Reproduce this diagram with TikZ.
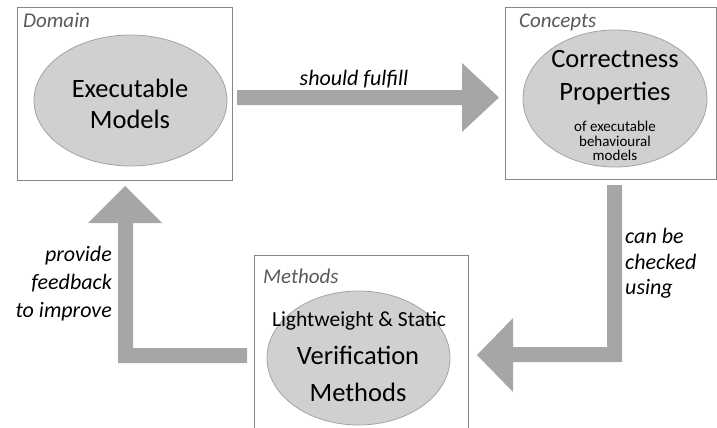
\documentclass[tikz,border=0pt]{standalone}
\usepackage{fontspec}
\setmainfont{Carlito}
\usetikzlibrary{shapes.geometric}
\definecolor{boxgray}{HTML}{868686}
\definecolor{blobfill}{HTML}{D0D0D0}
\definecolor{blobline}{HTML}{A3A3A3}
\definecolor{arrowgray}{HTML}{A6A6A6}
\definecolor{taggray}{HTML}{595959}
\begin{document}
\begin{tikzpicture}[x=1pt,y=-1pt,
  panel/.style={draw=boxgray, line width=0.9pt},
  blob/.style={ellipse, draw=blobline, fill=blobfill, line width=0.8pt, inner sep=0},
  blockarrow/.style={fill=arrowgray, draw=none},
  tag/.style={font=\fontsize{21}{25}\selectfont\itshape, text=taggray, anchor=base west, inner sep=0},
  big/.style={font=\fontsize{26.5}{31}\selectfont, anchor=base, inner sep=0},
  mid/.style={font=\fontsize{21.5}{25}\selectfont, anchor=base, inner sep=0},
  small/.style={font=\fontsize{15}{15}\selectfont, anchor=base, inner sep=0},
  verb/.style={font=\fontsize{22}{26}\selectfont\itshape, inner sep=0}
]
\useasboundingbox (0,0) rectangle (717,428);

% panels
\draw[panel] (17,7) rectangle (232,180);
\node[inner sep=0] (domainbox) at (124.5,93.5) {};
\draw[panel] (505,7) rectangle (716,179);
\node[inner sep=0] (conceptbox) at (610.5,93) {};
\draw[panel] (254,440) -- (254,255) -- (468,255) -- (468,440);

% panel tags
\node[tag] (tdomain) at (23,28) {Domain};
\node[tag] (tconcepts) at (519,28) {Concepts};
\node[tag] (tmethods) at (263,283) {Methods};

% ellipses
\node[blob, minimum width=193pt, minimum height=131pt] (exec) at (130.5,100.5) {};
\node[blob, minimum width=184pt, minimum height=137pt] (props) at (615,98.5) {};
\node[blob, minimum width=183pt, minimum height=134pt] (verif) at (358.5,358) {};

% ellipse texts
\node[big] (e1) at (130,97) {Executable};
\node[big] (e2) at (130,128) {Models};
\node[big] (p1) at (615,67) {Correctness};
\node[big] (p2) at (615,100) {Properties};
\node[small] (p3) at (615,131) {of executable};
\node[small] (p4) at (615,146) {behavioural};
\node[small] (p5) at (615,160) {models};
\node[mid] (v1) at (359,326) {Lightweight \& Static};
\node[big] (v2) at (358,364) {Verification};
\node[big] (v3) at (358,401) {Methods};

% block arrows
\fill[blockarrow] (237,90) -- (462,90) -- (462,63) -- (499,97.5) -- (462,132)
  -- (462,105) -- (237,105) -- cycle;
\fill[blockarrow] (607,185) -- (622,185) -- (622,362) -- (513,362) -- (513,392)
  -- (477,355) -- (513,318) -- (513,347) -- (607,347) -- cycle;
\fill[blockarrow] (247,348) -- (133,348) -- (133,223) -- (162,223) -- (125,186)
  -- (88,223) -- (118,223) -- (118,363) -- (247,363) -- cycle;

% arrow labels
\node[verb, anchor=base] (l1) at (354,85) {should fulfill};
\node[verb, anchor=base west] (l2) at (625,243) {can be};
\node[verb, anchor=base west] (l3) at (625,269) {checked};
\node[verb, anchor=base west] (l4) at (625,294) {using};
\node[verb, anchor=base east] (l5) at (112,261) {provide};
\node[verb, anchor=base east] (l6) at (112,289) {feedback};
\node[verb, anchor=base east] (l7) at (112,317) {to improve};
\end{tikzpicture}
\end{document}
